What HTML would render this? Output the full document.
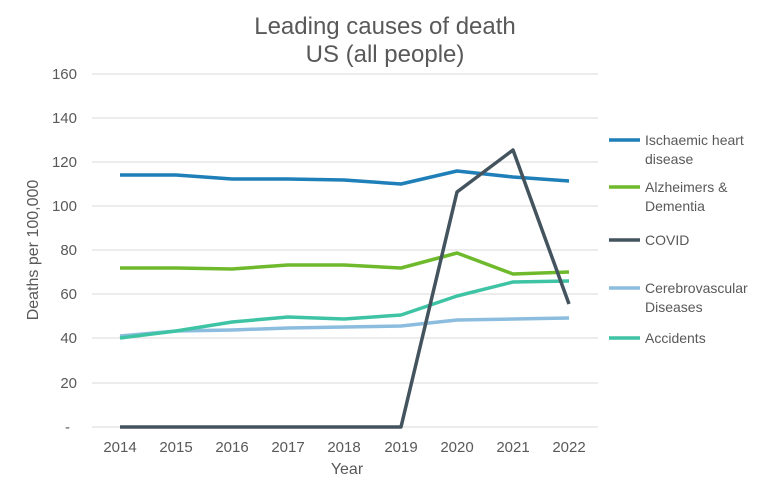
<!DOCTYPE html>
<html><head><meta charset="utf-8"><style>body{margin:0;background:#fff}svg{display:block}</style></head><body>
<svg width="770" height="481" xmlns="http://www.w3.org/2000/svg" font-family="Liberation Sans, sans-serif" fill="#595959">
<text x="385" y="34" font-size="24" text-anchor="middle">Leading causes of death</text>
<text x="385" y="62" font-size="24" text-anchor="middle">US (all people)</text>
<g stroke="#d9d9d9" stroke-width="1">
<line x1="92" x2="598" y1="74" y2="74"/><line x1="92" x2="598" y1="118" y2="118"/><line x1="92" x2="598" y1="162" y2="162"/><line x1="92" x2="598" y1="206" y2="206"/><line x1="92" x2="598" y1="250" y2="250"/><line x1="92" x2="598" y1="294" y2="294"/><line x1="92" x2="598" y1="338" y2="338"/><line x1="92" x2="598" y1="383" y2="383"/><line x1="92" x2="598" y1="427" y2="427"/>
</g>
<g font-size="15" text-anchor="end">
<text x="77" y="79">160</text><text x="77" y="123">140</text><text x="77" y="167">120</text><text x="77" y="211">100</text><text x="77" y="255">80</text><text x="77" y="299">60</text><text x="77" y="343">40</text><text x="77" y="388">20</text><text x="70" y="432">-</text>
</g>
<g font-size="15" text-anchor="middle">
<text x="120" y="452">2014</text><text x="176" y="452">2015</text><text x="232" y="452">2016</text><text x="288" y="452">2017</text><text x="344" y="452">2018</text><text x="401" y="452">2019</text><text x="457" y="452">2020</text><text x="513" y="452">2021</text><text x="569" y="452">2022</text>
</g>
<text x="347" y="474" font-size="16" text-anchor="middle">Year</text>
<text transform="translate(38,250) rotate(-90)" font-size="16" text-anchor="middle">Deaths per 100,000</text>
<g fill="none" stroke-width="3.5" stroke-linejoin="round">
<polyline stroke="#1f7fb8" points="120,175 176,175 232,179 288,179 344,180 401,184 457,171 513,177 569,181"/>
<polyline stroke="#6fba2c" points="120,268 176,268 232,269 288,265 344,265 401,268 457,253 513,274 569,272"/>
<polyline stroke="#8cbddf" points="120,336 176,331 232,330 288,328 344,327 401,326 457,320 513,319 569,318"/>
<polyline stroke="#3ec4a4" points="120,338 176,331 232,322 288,317 344,319 401,315 457,296 513,282 569,281"/>
<polyline stroke="#44545f" points="120,427 176,427 232,427 288,427 344,427 401,427 457,192 513,150 569,304"/>
</g>
<g stroke-width="3.5">
<line x1="609" x2="640" y1="140" y2="140" stroke="#1f7fb8"/>
<line x1="609" x2="640" y1="187" y2="187" stroke="#6fba2c"/>
<line x1="609" x2="640" y1="240" y2="240" stroke="#44545f"/>
<line x1="609" x2="640" y1="288" y2="288" stroke="#8cbddf"/>
<line x1="609" x2="640" y1="338" y2="338" stroke="#3ec4a4"/>
</g>
<g font-size="14">
<text x="645" y="145">Ischaemic heart</text><text x="645" y="164">disease</text>
<text x="645" y="192">Alzheimers &amp;</text><text x="645" y="211">Dementia</text>
<text x="645" y="245">COVID</text>
<text x="645" y="293">Cerebrovascular</text><text x="645" y="312">Diseases</text>
<text x="645" y="343">Accidents</text>
</g>
</svg>
</body></html>
